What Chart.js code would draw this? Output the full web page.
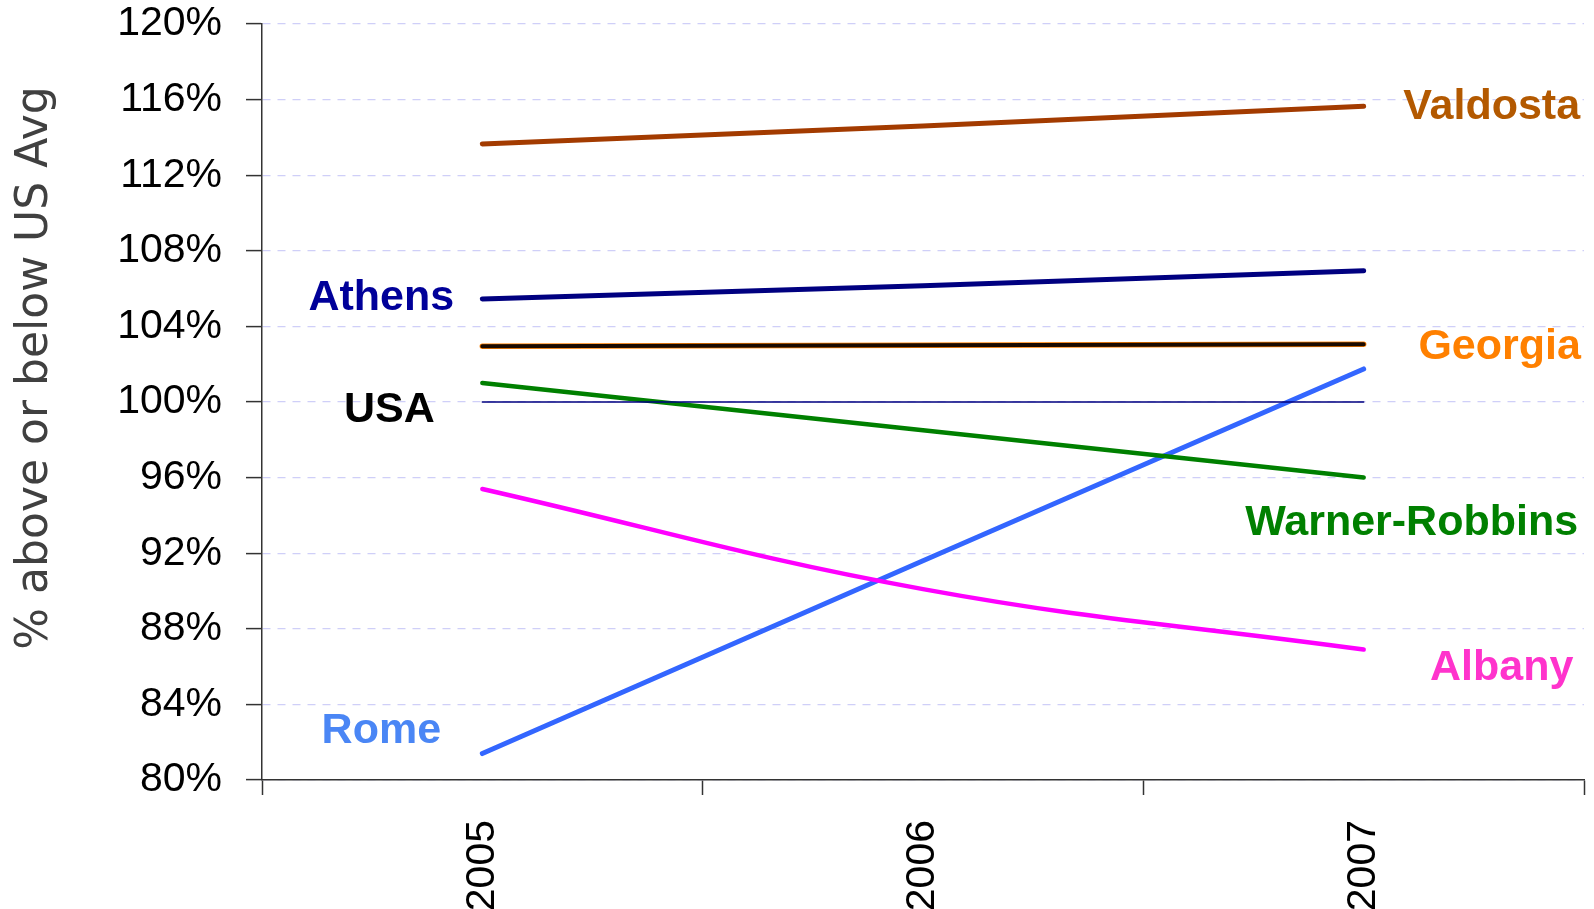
<!DOCTYPE html>
<html>
<head>
<meta charset="utf-8">
<script src="https://cdn.jsdelivr.net/npm/chart.js@4.4.1/dist/chart.umd.min.js"></script>
<style>
  html, body { margin: 0; padding: 0; background: #fff; }
</style>
</head>
<body>
<canvas id="myLineChart" width="1594" height="909"></canvas>
<script>
// data (% of US average)
var years = ['2005', '2006', '2007'];
var valdosta = [113.65, 114.6, 115.65];
var athens = [105.45, 106.15, 106.95];
var georgia = [102.95, 103.0, 103.05];
var usa = [100, 100, 100];
var warnerRobbins = [101.0, 98.5, 96.0];
var albany = [95.4, 90.1, 86.9];
var rome = [81.4, 91.6, 101.75];
var yTicks = [80, 84, 88, 92, 96, 100, 104, 108, 112, 116, 120];

// series names drawn next to the lines
var seriesLabels = [
  { text: 'Valdosta', data: valdosta, idx: 2, dx: 128, dy: 1, color: '#b35900' },
  { text: 'Georgia', data: georgia, idx: 2, dx: 136, dy: 3, color: '#ff8000' },
  { text: 'Warner-Robbins', data: warnerRobbins, idx: 2, dx: 48, dy: 46, color: '#008000' },
  { text: 'Albany', data: albany, idx: 2, dx: 138, dy: 19, color: '#ff33cc' },
  { text: 'Athens', data: athens, idx: 0, dx: -101, dy: -1, color: '#000099' },
  { text: 'USA', data: usa, idx: 0, dx: -93, dy: 8, color: '#000000' },
  { text: 'Rome', data: rome, idx: 0, dx: -101, dy: -22, color: '#4a86f5' }
];

var labelPlugin = {
  id: 'seriesLabels',
  afterDatasetsDraw: function (chart) {
    var ctx = chart.ctx;
    var xs = chart.scales.x, ys = chart.scales.y;
    ctx.save();
    ctx.font = 'bold 43px "Liberation Sans", Arial, sans-serif';
    ctx.textAlign = 'center';
    ctx.textBaseline = 'middle';
    seriesLabels.forEach(function (l) {
      var x = xs.getPixelForValue(l.idx);
      var y = ys.getPixelForValue(l.data[l.idx]);
      ctx.fillStyle = l.color;
      ctx.fillText(l.text, x + l.dx, y + l.dy);
    });
    // y axis title
    var a = chart.chartArea;
    ctx.translate(36, (a.top + a.bottom) / 2 - 34);
    ctx.rotate(-Math.PI / 2);
    ctx.font = '44px "DejaVu Sans", sans-serif';
    ctx.fillStyle = '#404040';
    ctx.fillText('% above or below US Avg', 0, 0);
    ctx.restore();
  }
};

function line(data, color, width, order, tension) {
  return {
    data: data,
    borderColor: color,
    borderWidth: width,
    pointRadius: 0,
    tension: tension || 0,
    borderCapStyle: 'round',
    fill: false,
    order: order
  };
}

var ctx = document.getElementById('myLineChart').getContext('2d');
var myLineChart = new Chart(ctx, {
  type: 'line',
  data: {
    labels: years,
    datasets: [
      line(valdosta, '#a33b00', 5, 1),
      line(athens, '#000080', 5, 1),
      line(georgia, '#ff8000', 5.5, 2),
      line(georgia, '#1a0a00', 4, 0),
      line(usa, '#000080', 1.5, 1),
      line(warnerRobbins, '#008000', 4.5, 1),
      line(albany, '#ff00ff', 4.5, 1, 0.4),
      line(rome, '#3366ff', 5, 1)
    ]
  },
  options: {
    responsive: false,
    animation: false,
    layout: {
      padding: { left: 0, right: 10, top: 0, bottom: 0 }
    },
    plugins: {
      legend: { display: false },
      tooltip: { enabled: false }
    },
    scales: {
      x: {
        type: 'category',
        offset: true,
        grid: {
          offset: true,
          drawOnChartArea: false,
          tickLength: 15,
          tickColor: '#333',
          tickWidth: 1.5
        },
        border: { color: '#333', width: 1.5 },
        ticks: {
          minRotation: 90,
          maxRotation: 90,
          padding: 25,
          color: '#000',
          font: { family: '"Liberation Sans", Arial, sans-serif', size: 41 }
        },
        afterFit: function (scale) { scale.height = 129; }
      },
      y: {
        min: 80,
        max: 120,
        afterBuildTicks: function (scale) {
          scale.ticks = yTicks.map(function (v) { return { value: v }; });
        },
        grid: {
          color: '#cfcff8',
          lineWidth: 1.2,
          tickColor: '#333',
          tickLength: 16,
          tickWidth: 1.5
        },
        border: { color: '#333', width: 1.5, dash: [8, 7] },
        ticks: {
          padding: 24,
          color: '#000',
          font: { family: '"Liberation Sans", Arial, sans-serif', size: 41 },
          callback: function (v) { return v + '%'; }
        },
        afterFit: function (scale) {
          scale.width = 262;
          scale.paddingTop = 24;
        }
      }
    }
  },
  plugins: [labelPlugin]
});
</script>
</body>
</html>
